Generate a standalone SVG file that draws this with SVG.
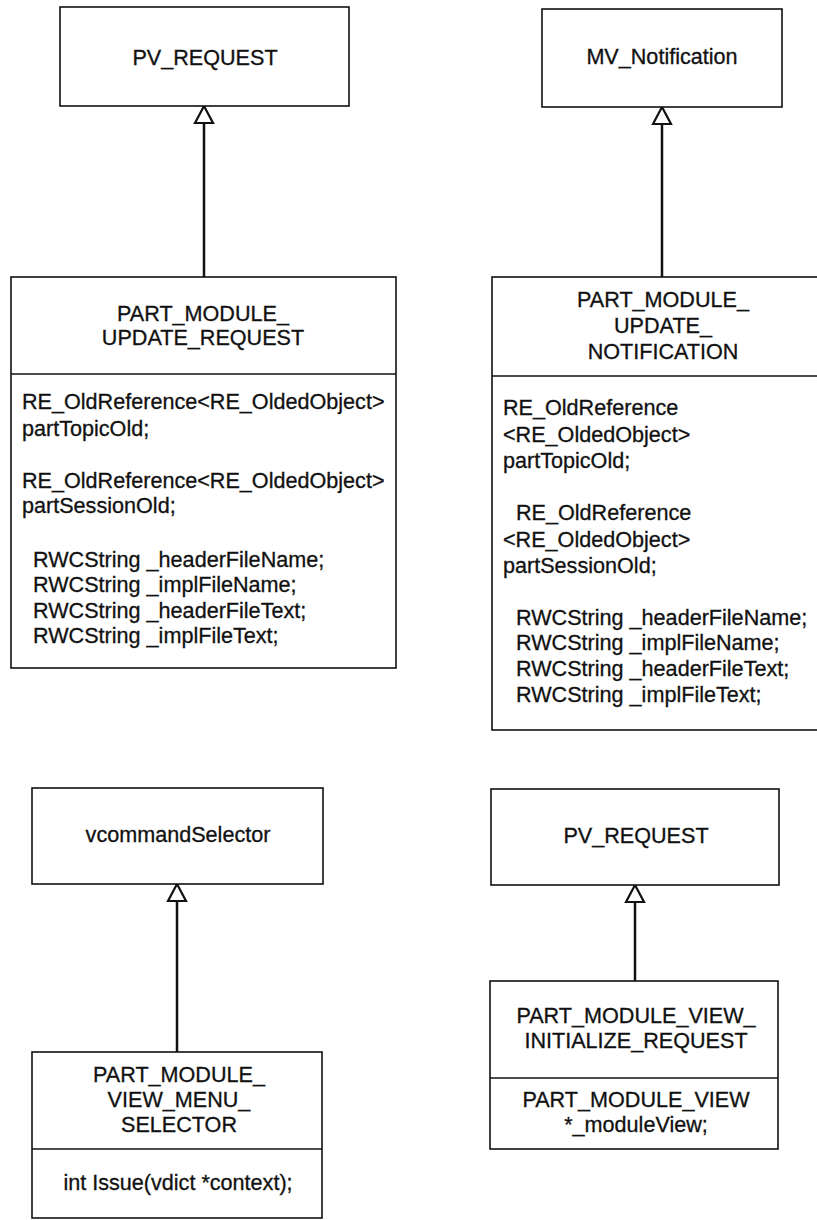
<svg xmlns="http://www.w3.org/2000/svg" width="817" height="1220" viewBox="0 0 817 1220">
  <style>
    .box { fill: #fff; stroke: #111; stroke-width: 1.6; }
    .div { stroke: #111; stroke-width: 1.6; }
    .t { font-family: "Liberation Sans", Arial, sans-serif; font-size: 21.6px; fill: #111; stroke: #111; stroke-width: 0.3px; }
    .c { text-anchor: middle; }
    .conn { stroke: #111; stroke-width: 2.5; fill: none; marker-end: url(#inherit); }
  </style>
  <defs>
    <!-- hollow generalization triangle -->
    <marker id="inherit" viewBox="-2 -11 21 22" refX="17" refY="0" markerWidth="21" markerHeight="22" markerUnits="userSpaceOnUse" orient="auto">
      <path d="M0,-9 L17,0 L0,9 Z" fill="#fff" stroke="#111" stroke-width="2.2" stroke-linejoin="miter"/>
    </marker>
  </defs>
  <rect width="817" height="1220" fill="#fff"/>

  <g id="connectors">
    <line class="conn" x1="204" y1="277" x2="204" y2="106"/>
    <line class="conn" x1="662" y1="277" x2="662" y2="107"/>
    <line class="conn" x1="177" y1="1052" x2="177" y2="884"/>
    <line class="conn" x1="635" y1="981" x2="635" y2="885"/>
  </g>

  <g id="pv-request-1">
    <rect class="box" x="60" y="7" width="289" height="99"/>
    <text class="t c" x="205" y="65">PV_REQUEST</text>
  </g>

  <g id="part-module-update-request">
    <rect class="box" x="11" y="277" width="385" height="391"/>
    <line class="div" x1="11" y1="374" x2="396" y2="374"/>
    <text class="t c" x="203" y="321">PART_MODULE_</text>
    <text class="t c" x="203" y="345">UPDATE_REQUEST</text>
    <text class="t" x="22" y="409">RE_OldReference&lt;RE_OldedObject&gt;</text>
    <text class="t" x="22" y="436">partTopicOld;</text>
    <text class="t" x="22" y="488">RE_OldReference&lt;RE_OldedObject&gt;</text>
    <text class="t" x="22" y="513">partSessionOld;</text>
    <text class="t" x="33" y="567">RWCString _headerFileName;</text>
    <text class="t" x="33" y="592">RWCString _implFileName;</text>
    <text class="t" x="33" y="618">RWCString _headerFileText;</text>
    <text class="t" x="33" y="643">RWCString _implFileText;</text>
  </g>

  <g id="mv-notification">
    <rect class="box" x="542" y="9" width="240" height="98"/>
    <text class="t c" x="662" y="64">MV_Notification</text>
  </g>

  <g id="part-module-update-notification">
    <rect class="box" x="492" y="277" width="330" height="453"/>
    <line class="div" x1="492" y1="376" x2="822" y2="376"/>
    <text class="t c" x="663" y="307">PART_MODULE_</text>
    <text class="t c" x="663" y="333">UPDATE_</text>
    <text class="t c" x="663" y="359">NOTIFICATION</text>
    <text class="t" x="503" y="415">RE_OldReference</text>
    <text class="t" x="503" y="442">&lt;RE_OldedObject&gt;</text>
    <text class="t" x="503" y="468">partTopicOld;</text>
    <text class="t" x="516" y="520">RE_OldReference</text>
    <text class="t" x="503" y="547">&lt;RE_OldedObject&gt;</text>
    <text class="t" x="503" y="573">partSessionOld;</text>
    <text class="t" x="516" y="625">RWCString _headerFileName;</text>
    <text class="t" x="516" y="650">RWCString _implFileName;</text>
    <text class="t" x="516" y="676">RWCString _headerFileText;</text>
    <text class="t" x="516" y="702">RWCString _implFileText;</text>
  </g>

  <g id="vcommand-selector">
    <rect class="box" x="32" y="788" width="291" height="96"/>
    <text class="t c" x="178" y="842">vcommandSelector</text>
  </g>

  <g id="part-module-view-menu-selector">
    <rect class="box" x="32" y="1052" width="290" height="166"/>
    <line class="div" x1="32" y1="1149" x2="322" y2="1149"/>
    <text class="t c" x="179" y="1082">PART_MODULE_</text>
    <text class="t c" x="179" y="1107">VIEW_MENU_</text>
    <text class="t c" x="179" y="1132">SELECTOR</text>
    <text class="t c" x="178" y="1190">int Issue(vdict *context);</text>
  </g>

  <g id="pv-request-2">
    <rect class="box" x="491" y="789" width="288" height="96"/>
    <text class="t c" x="636" y="843">PV_REQUEST</text>
  </g>

  <g id="part-module-view-initialize-request">
    <rect class="box" x="490" y="981" width="288" height="168"/>
    <line class="div" x1="490" y1="1078" x2="778" y2="1078"/>
    <text class="t c" x="636" y="1023">PART_MODULE_VIEW_</text>
    <text class="t c" x="636" y="1048">INITIALIZE_REQUEST</text>
    <text class="t c" x="636" y="1107">PART_MODULE_VIEW</text>
    <text class="t c" x="636" y="1132">*_moduleView;</text>
  </g>
</svg>
